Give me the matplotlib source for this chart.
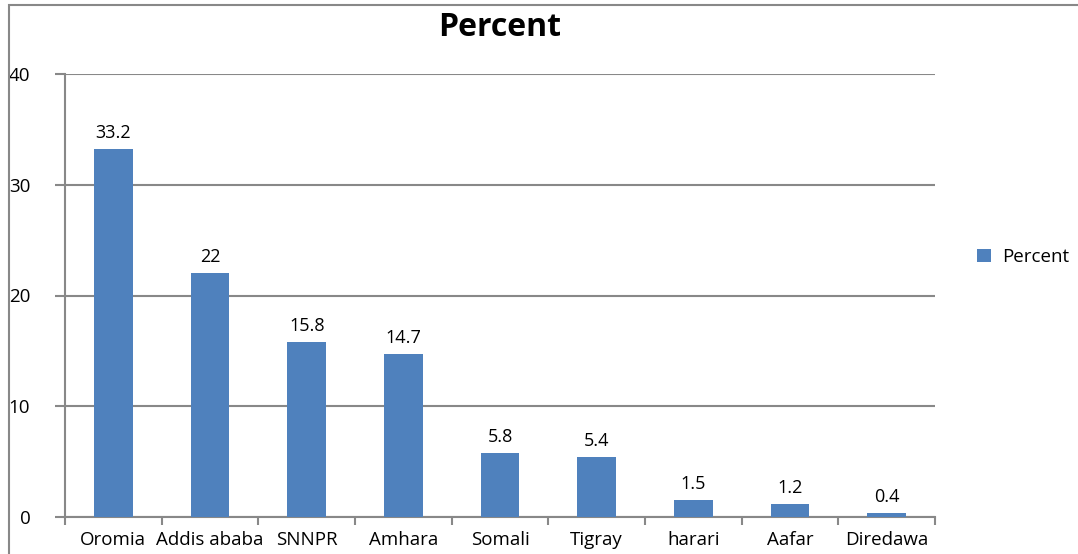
import numpy as np
import matplotlib.pyplot as plt
from matplotlib.patches import Rectangle

regions = ["Oromia", "Addis ababa", "SNNPR", "Amhara", "Somali", "Tigray", "harari", "Aafar", "Diredawa"]
percent = [33.2, 22, 15.8, 14.7, 5.8, 5.4, 1.5, 1.2, 0.4]
value_labels = ["33.2", "22", "15.8", "14.7", "5.8", "5.4", "1.5", "1.2", "0.4"]

W, H = 1078, 554
fig = plt.figure(figsize=(W / 100, H / 100), dpi=100)
plt.rcParams['font.family'] = ['Open Sans', 'DejaVu Sans']

ax = fig.add_axes([65 / W, 1 - 517 / H, (935 - 65) / W, (517 - 74) / H])

x = np.arange(len(regions))
bars = ax.bar(x, percent, width=0.4, color="#4F81BD", label="Percent", zorder=3)

for xi, v, s in zip(x, percent, value_labels):
    ax.annotate(s, (xi, v), xytext=(0, 5), textcoords="offset points",
                ha="center", va="bottom", fontsize=13)

ax.set_xlim(-0.5, len(regions) - 0.5)
ax.set_ylim(0, 40)
ax.set_yticks([0, 10, 20, 30, 40])
ax.yaxis.grid(True, color="#888888", linewidth=1.5, zorder=0)
ax.set_axisbelow(True)

ax.set_xticks(x)
ax.set_xticklabels(regions, fontsize=13.5)
ax.set_xticks(np.arange(-0.5, len(regions)), minor=True)
ax.tick_params(axis="x", which="major", length=0, pad=10)
ax.tick_params(axis="x", which="minor", length=6, width=1.5, color="#888888", direction="out")
ax.tick_params(axis="y", length=7, width=1.5, color="#888888", pad=18, labelsize=13.5)

for side in ["top", "right"]:
    ax.spines[side].set_visible(False)
for side in ["left", "bottom"]:
    ax.spines[side].set_color("#888888")
    ax.spines[side].set_linewidth(1.5)

fig.text(500 / W, 1 - 27 / H, "Percent", ha="center", va="center",
         fontsize=23, fontweight="bold")

fig.legend(handles=[bars], labels=["Percent"], loc="center left",
           bbox_to_anchor=(960 / W, 1 - 257 / H), frameon=False,
           fontsize=13.5, handlelength=0.75, handleheight=0.75, handletextpad=0.6)

fig.patches.append(Rectangle((9 / W, -0.1), 1.2, 1 - 5 / H + 0.1, transform=fig.transFigure,
                             fill=False, edgecolor="#888888", linewidth=1.5))

fig.savefig("out.png", dpi=100)
